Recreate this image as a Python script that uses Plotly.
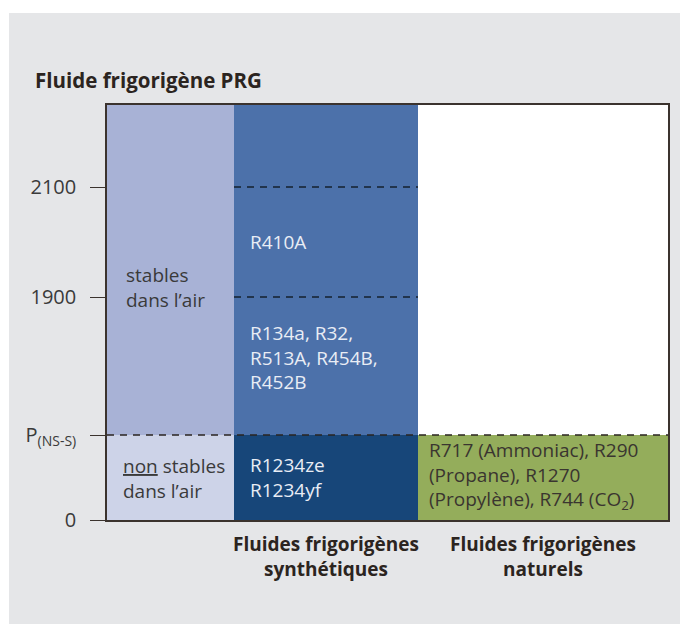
import plotly.graph_objects as go

# ---- data (schematic levels of the PRG axis) ----
level_names = ["0", "P<sub>(NS-S)</sub>", "1900", "2100"]
level_values = [0, 85, 223, 333]
axis_top = 415

columns = ["stabilité", "synthétiques", "naturels"]
column_widths = [127, 184, 250]

lower_band = [85, 85, 85]            # 0 -> P(NS-S)
upper_band = [330, 330, 0]           # P(NS-S) -> top

x_category_lines = [["Fluides frigorigènes", "synthétiques"],
                    ["Fluides frigorigènes", "naturels"]]

stable_lines = ["stables", "dans l’air"]
unstable_lines = ["<u>non</u> stables", "dans l’air"]
r410_lines = ["R410A"]
r134_lines = ["R134a, R32,", "R513A, R454B,", "R452B"]
hfo_lines = ["R1234ze", "R1234yf"]
natural_lines = ["R717 (Ammoniac), R290", "(Propane), R1270", "(Propylène), R744 (CO<sub>2</sub>)"]

# ---- geometry derived from widths ----
edges = [0]
for w in column_widths:
    edges.append(edges[-1] + w)
centers = [(edges[i] + edges[i + 1]) / 2 for i in range(len(column_widths))]

lower_colors = ["#cdd3e8", "#174679", "#94ad5b"]
upper_colors = ["#a8b2d6", "#4c71aa", "#ffffff"]

FONT = "Open Sans"
SIZE = 19
DARK = "#3b332e"

ML, MT, PW, PH = 99, 97, 561, 415

fig = go.Figure()
fig.add_trace(go.Bar(x=centers, y=lower_band, base=[0, 0, 0], width=column_widths,
                     marker=dict(color=lower_colors, line=dict(width=0)),
                     hoverinfo="skip", showlegend=False))
fig.add_trace(go.Bar(x=centers, y=upper_band, base=[level_values[1]] * 3, width=column_widths,
                     marker=dict(color=upper_colors, line=dict(width=0)),
                     hoverinfo="skip", showlegend=False))

# dashed reference lines
fig.add_shape(type="line", xref="x", yref="y", x0=edges[0], x1=edges[-1],
              y0=level_values[1], y1=level_values[1],
              line=dict(color="#2a2420", width=1.7, dash="7px,6px"))
for lv in level_values[2:]:
    fig.add_shape(type="line", xref="x", yref="y", x0=edges[1], x1=edges[2],
                  y0=lv, y1=lv, line=dict(color="#15202e", width=1.7, dash="7px,6px"))

# white strips at top and left of the grey panel
fig.add_shape(type="rect", xref="paper", yref="paper", x0=-0.3, x1=1.1,
              y0=(MT + PH - 5) / PH, y1=1.5,
              fillcolor="white", line=dict(width=0), layer="below")
fig.add_shape(type="rect", xref="paper", yref="paper", x0=-0.3, x1=(1 - ML) / PW,
              y0=-0.5, y1=1.5, fillcolor="white", line=dict(width=0), layer="below")

def block(x, y_center, lines, color, anchor="left", bold=False, yref="y"):
    txt = "<br>".join(f"<b>{l}</b>" if bold else l for l in lines)
    fig.add_annotation(x=x, y=y_center, xref="x", yref=yref, text=txt,
                       showarrow=False, xanchor=anchor, yanchor="middle", align=anchor,
                       font=dict(family=FONT, size=SIZE, color=color))

block(edges[0] + 17, 233, stable_lines, "#3a3a3a")
block(edges[0] + 14, 42, unstable_lines, "#3a3a3a")
block(edges[1] + 14, 278, r410_lines, "#e9edf5")
block(edges[1] + 14, 163, r134_lines, "#e9edf5")
block(edges[1] + 14, 43, hfo_lines, "#e9edf5")
block(edges[2] + 9, 45, natural_lines, "#3a3530")
block(centers[1], -36 / PH, x_category_lines[0], "#2b2420", anchor="center", bold=True, yref="paper")
block(centers[2], -36 / PH, x_category_lines[1], "#2b2420", anchor="center", bold=True, yref="paper")

fig.add_annotation(x=(25 - ML) / PW, y=(MT + PH - 72) / PH, xref="paper", yref="paper",
                   text="<b>Fluide frigorigène PRG</b>", showarrow=False,
                   xanchor="left", yanchor="middle",
                   font=dict(family=FONT, size=20.5, color="#2b2420"))

fig.update_layout(
    width=688, height=624,
    margin=dict(l=ML, r=688 - ML - PW, t=MT, b=624 - MT - PH),
    paper_bgcolor="#e5e6e8", plot_bgcolor="white",
    bargap=0, barmode="overlay",
    font=dict(family=FONT, size=SIZE, color="#3a3a3a"),
    xaxis=dict(range=[edges[0], edges[-1]], showticklabels=False,
               ticks="", showgrid=False, zeroline=False, showline=True, mirror=True,
               linecolor=DARK, linewidth=1.5, fixedrange=True),
    yaxis=dict(range=[0, axis_top], tickvals=level_values, ticktext=level_names,
               ticks="outside", ticklen=15, tickcolor=DARK, tickwidth=1.3,
               showgrid=False, zeroline=False, showline=True, mirror=True,
               linecolor=DARK, linewidth=1.5, ticklabelstandoff=10,
               tickfont=dict(family=FONT, size=20, color="#3a3a3a"),
               fixedrange=True),
)

fig.write_html("out.html")
